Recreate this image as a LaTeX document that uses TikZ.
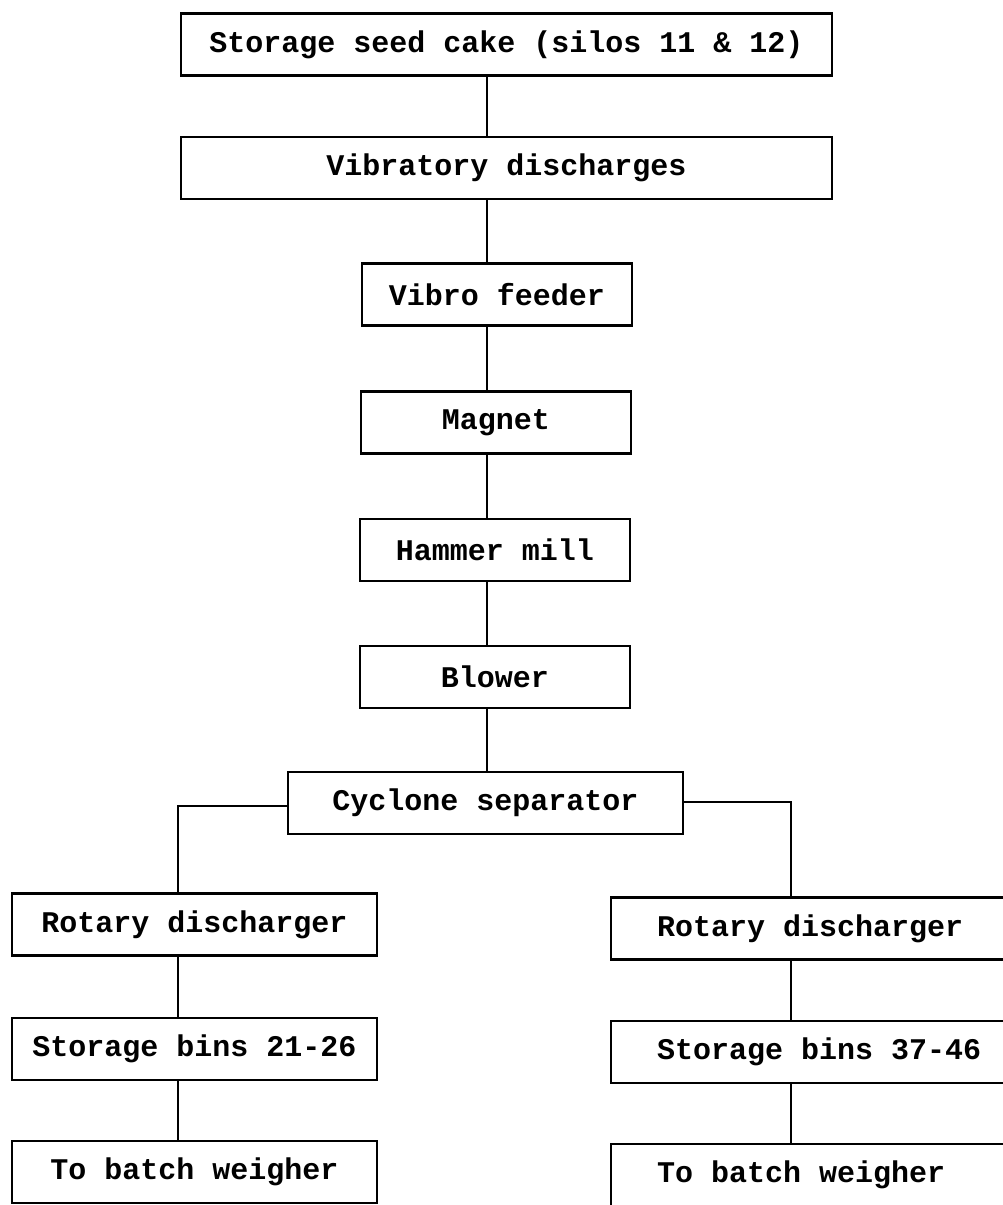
\documentclass[tikz,border=0pt]{standalone}
\usepackage{fontspec}
\setmainfont{Liberation Mono}
\begin{document}
\begin{tikzpicture}[x=1pt,y=-1pt,
  box/.style={draw, line width=2.4pt, minimum height=62pt, inner sep=0pt,
    font=\fontsize{30}{34}\selectfont\bfseries},
  cbox/.style={box, minimum width=270pt},
  lbox/.style={box, minimum width=365pt},
  rbox/.style={box, minimum width=492pt, inner xsep=46pt,
    execute at begin node={\hbox to 400pt\bgroup},
    execute at end node={\hfil\egroup}},
  link/.style={line width=2.2pt}]
\useasboundingbox (0,0) rectangle (1003,1205);
\clip (0,0) rectangle (1003,1205);

% main column
\node[box, minimum width=651pt] (b1) at (506.5,44.5) {Storage seed cake (silos 11 \& 12)};
\node[box, minimum width=651pt] (b2) at (506.5,168) {Vibratory discharges};
\node[cbox] (b3) at (497,294.5) {Vibro feeder};
\node[cbox] (b4) at (496,422.5) {Magnet};
\node[cbox] (b5) at (495,550) {Hammer mill};
\node[cbox] (b6) at (495,677) {Blower};
\node[box, minimum width=395pt] (b7) at (485.5,803) {Cyclone separator};

% left branch
\node[lbox] (l1) at (194.5,924.5) {Rotary discharger};
\node[lbox] (l2) at (194.5,1049) {Storage bins 21-26};
\node[lbox] (l3) at (194.5,1172) {To batch weigher};

% right branch (boxes run past the right edge)
\node[rbox] (r1) at (857,928.5) {Rotary discharger};
\node[rbox] (r2) at (857,1052) {Storage bins 37-46};
\node[rbox] (r3) at (857,1175) {To batch weigher};

% connector guide lines
\coordinate (spine) at (487,0);
\coordinate (lx) at (178,0);
\coordinate (rx) at (791,0);

\draw[link] (b1.south -| spine) -- (b2.north -| spine);
\draw[link] (b2.south -| spine) -- (b3.north -| spine);
\draw[link] (b3.south -| spine) -- (b4.north -| spine);
\draw[link] (b4.south -| spine) -- (b5.north -| spine);
\draw[link] (b5.south -| spine) -- (b6.north -| spine);
\draw[link] (b6.south -| spine) -- (b7.north -| spine);

\draw[link] ([yshift=-3pt]b7.west) -| (l1.north -| lx);
\draw[link] ([yshift=1pt]b7.east) -| (r1.north -| rx);

\draw[link] (l1.south -| lx) -- (l2.north -| lx);
\draw[link] (l2.south -| lx) -- (l3.north -| lx);
\draw[link] (r1.south -| rx) -- (r2.north -| rx);
\draw[link] (r2.south -| rx) -- (r3.north -| rx);
\end{tikzpicture}
\end{document}
